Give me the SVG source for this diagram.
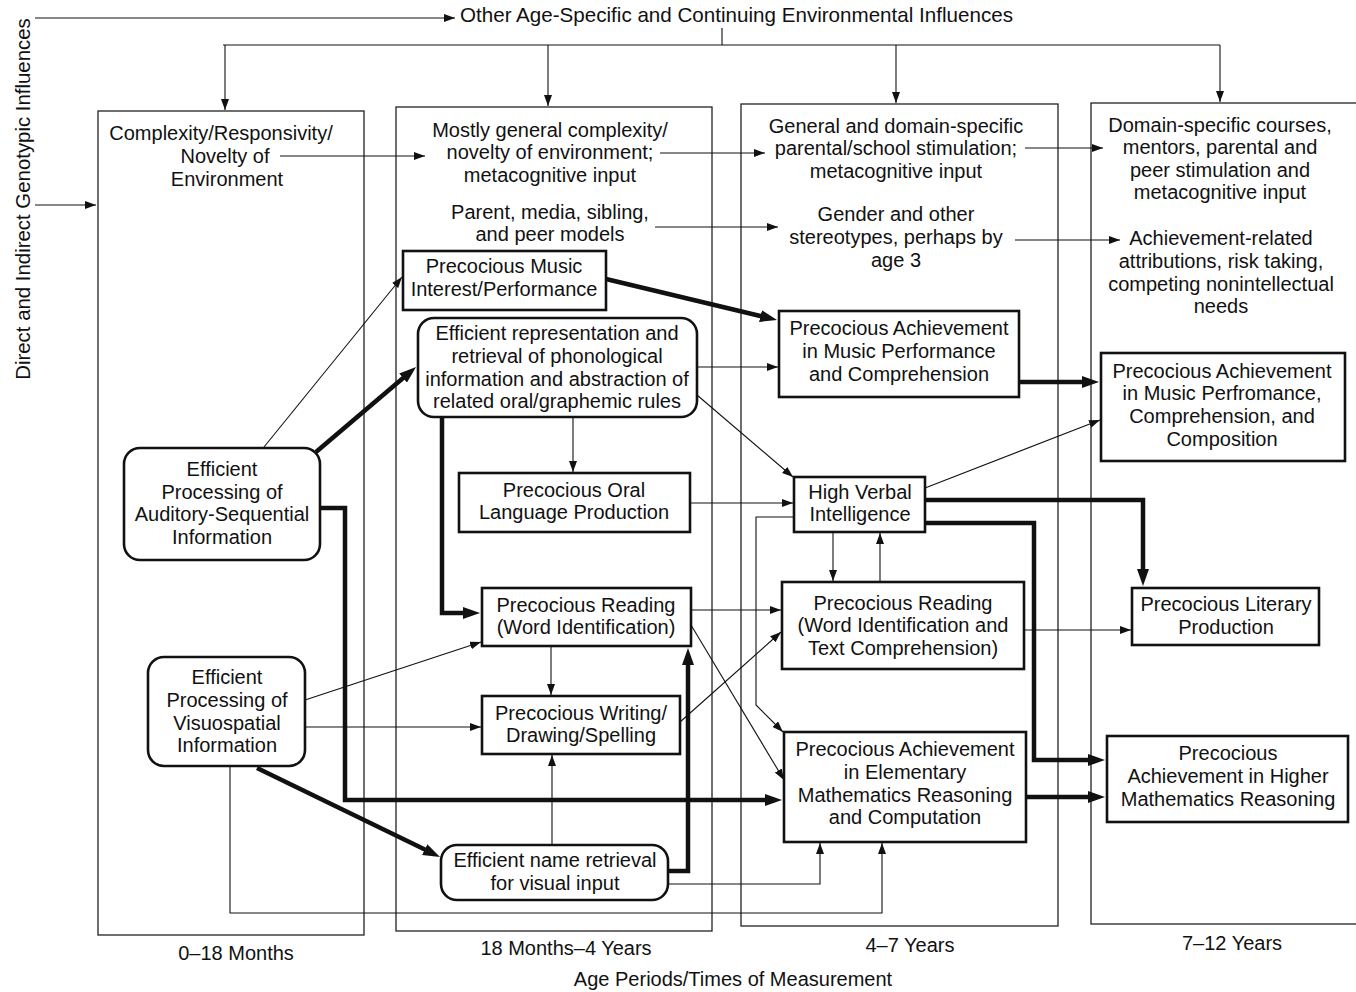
<svg xmlns="http://www.w3.org/2000/svg" width="1356" height="992" viewBox="0 0 1356 992">
<defs>
<marker id="a" markerUnits="userSpaceOnUse" markerWidth="11" markerHeight="8" refX="11" refY="4" orient="auto"><path d="M0,0 L11,4 L0,8 z" fill="#111"/></marker>
<marker id="at" markerUnits="userSpaceOnUse" markerWidth="17" markerHeight="12" refX="7" refY="6" orient="auto"><path d="M0,0 L17,6 L0,12 z" fill="#111"/></marker>
<style>
text{font-family:"Liberation Sans",Arial,sans-serif;font-size:20px;fill:#111;text-anchor:middle}
.frame{fill:none;stroke:#222;stroke-width:1.3}
.box{fill:#fff;stroke:#111;stroke-width:2.6}
.t{fill:none;stroke:#111;stroke-width:1.1;marker-end:url(#a)}
.tn{fill:none;stroke:#111;stroke-width:1.1}
.k{fill:none;stroke:#111;stroke-width:4.5;marker-end:url(#at)}
</style>
</defs>
<rect width="1356" height="992" fill="#fff"/>

<g id="periods">
<rect class="frame" x="98" y="111" width="266" height="824"/>
<rect class="frame" x="396" y="107" width="316" height="824"/>
<rect class="frame" x="741" y="104" width="317" height="822"/>
<rect class="frame" x="1091" y="103" width="290" height="821"/>
<text x="236" y="960">0–18 Months</text>
<text x="566" y="955">18 Months–4 Years</text>
<text x="910" y="952">4–7 Years</text>
<text x="1232" y="950">7–12 Years</text>
<text x="733" y="986">Age Periods/Times of Measurement</text>
</g>

<g id="influences">
<text x="460" y="22" style="text-anchor:start;font-size:20.6px">Other Age-Specific and Continuing Environmental Influences</text>
<text transform="translate(30,199) rotate(-90)" style="font-size:20.4px">Direct and Indirect Genotypic Influences</text>
<g id="env1"><text x="221" y="140">Complexity/Responsivity/</text><text x="225" y="163">Novelty of</text><text x="227" y="186">Environment</text></g>
<g id="env2"><text x="550" y="137">Mostly general complexity/</text><text x="550" y="159">novelty of environment;</text><text x="550" y="182">metacognitive input</text></g>
<g id="models"><text x="550" y="219">Parent, media, sibling,</text><text x="550" y="241">and peer models</text></g>
<g id="env3"><text x="896" y="133">General and domain-specific</text><text x="896" y="155">parental/school stimulation;</text><text x="896" y="178">metacognitive input</text></g>
<g id="stereo"><text x="896" y="221">Gender and other</text><text x="896" y="244">stereotypes, perhaps by</text><text x="896" y="267">age 3</text></g>
<g id="env4"><text x="1220" y="132">Domain-specific courses,</text><text x="1220" y="154">mentors, parental and</text><text x="1220" y="177">peer stimulation and</text><text x="1220" y="199">metacognitive input</text></g>
<g id="attrib"><text x="1221" y="245">Achievement-related</text><text x="1221" y="268">attributions, risk taking,</text><text x="1221" y="291">competing nonintellectual</text><text x="1221" y="313">needs</text></g>
</g>

<g id="connectors">
<path class="t" d="M35,18 H455"/>
<path class="t" d="M35,205 H96"/>
<path class="tn" d="M722,28 V45 M223,45 H1220"/>
<path class="t" d="M225,45 V110"/>
<path class="t" d="M548,45 V106"/>
<path class="t" d="M896,45 V103"/>
<path class="t" d="M1220,45 V102"/>
<path class="t" d="M280,156 H425"/>
<path class="t" d="M660,153 H765"/>
<path class="t" d="M1025,148 H1103"/>
<path class="t" d="M655,227 H778"/>
<path class="t" d="M1015,240 H1120"/>

<path class="t" d="M264,447 L402,277"/>
<path class="k" d="M316,452 L408.4,373.5"/>
<path class="k" d="M320,508 H345 V800 H772"/>
<path class="k" d="M606,279 L767.3,317.7"/>
<path class="t" d="M697,367 H778"/>
<path class="t" d="M697,395 L793,477"/>
<path class="t" d="M573,418 V472"/>
<path class="k" d="M442,418 V613 H470"/>
<path class="t" d="M690,503 H793"/>
<path class="k" d="M1019,382 H1089"/>
<path class="t" d="M925,488 L1100,420"/>
<path class="k" d="M925,500 H1143 V576"/>
<path class="k" d="M925,523 H1034 V760 H1095"/>
<path class="t" d="M794,517 H756 V705 L783,732"/>
<path class="t" d="M833,532 V581"/>
<path class="t" d="M880,582 V533"/>
<path class="t" d="M691,610 H781"/>
<path class="t" d="M691,625 L784,780"/>
<path class="t" d="M680,722 L781,632"/>
<path class="t" d="M1024,630 H1131"/>
<path class="k" d="M1026,797 H1095"/>
<path class="t" d="M305,700 L481,642"/>
<path class="t" d="M305,727 H481"/>
<path class="t" d="M551,646 V695"/>
<path class="t" d="M552,845 V755"/>
<path class="k" d="M257,768 L431,852.6"/>
<path class="k" d="M668,871 H688 V658"/>
<path class="t" d="M668,884 H820 V843"/>
<path class="t" d="M230,766 V913 H882 V843"/>
</g>

<g id="auditory"><rect class="box" x="124" y="448" width="196" height="112" rx="16"/><text x="222" y="476">Efficient</text><text x="222" y="499">Processing of</text><text x="222" y="521">Auditory-Sequential</text><text x="222" y="544">Information</text></g>
<g id="visuospatial"><rect class="box" x="148" y="657" width="157" height="109" rx="16"/><text x="227" y="684">Efficient</text><text x="227" y="707">Processing of</text><text x="227" y="730">Visuospatial</text><text x="227" y="752">Information</text></g>
<g id="music-interest"><rect class="box" x="403" y="251" width="203" height="59"/><text x="504" y="273">Precocious Music</text><text x="504" y="296">Interest/Performance</text></g>
<g id="phonological"><rect class="box" x="418" y="318" width="279" height="99" rx="16"/><text x="557" y="340">Efficient representation and</text><text x="557" y="363">retrieval of phonological</text><text x="557" y="386">information and abstraction of</text><text x="557" y="408">related oral/graphemic rules</text></g>
<g id="oral"><rect class="box" x="459" y="473" width="231" height="59"/><text x="574" y="497">Precocious Oral</text><text x="574" y="519">Language Production</text></g>
<g id="reading1"><rect class="box" x="482" y="588" width="209" height="58"/><text x="586" y="612">Precocious Reading</text><text x="586" y="634">(Word Identification)</text></g>
<g id="writing"><rect class="box" x="482" y="696" width="198" height="58"/><text x="581" y="720">Precocious Writing/</text><text x="581" y="742">Drawing/Spelling</text></g>
<g id="name-retrieval"><rect class="box" x="441" y="845" width="227" height="55" rx="16"/><text x="555" y="867">Efficient name retrieval</text><text x="555" y="890">for visual input</text></g>
<g id="music-achievement"><rect class="box" x="779" y="311" width="240" height="86"/><text x="899" y="335">Precocious Achievement</text><text x="899" y="358">in Music Performance</text><text x="899" y="381">and Comprehension</text></g>
<g id="verbal"><rect class="box" x="794" y="477" width="131" height="55"/><text x="860" y="499">High Verbal</text><text x="860" y="521">Intelligence</text></g>
<g id="reading2"><rect class="box" x="782" y="582" width="242" height="87"/><text x="903" y="610">Precocious Reading</text><text x="903" y="632">(Word Identification and</text><text x="903" y="655">Text Comprehension)</text></g>
<g id="elem-math"><rect class="box" x="784" y="732" width="242" height="110"/><text x="905" y="756">Precocious Achievement</text><text x="905" y="779">in Elementary</text><text x="905" y="802">Mathematics Reasoning</text><text x="905" y="824">and Computation</text></g>
<g id="music-composition"><rect class="box" x="1101" y="353" width="244" height="108"/><text x="1222" y="378">Precocious Achievement</text><text x="1222" y="400">in Music Perfromance,</text><text x="1222" y="423">Comprehension, and</text><text x="1222" y="446">Composition</text></g>
<g id="literary"><rect class="box" x="1132" y="588" width="187" height="57"/><text x="1226" y="611">Precocious Literary</text><text x="1226" y="634">Production</text></g>
<g id="higher-math"><rect class="box" x="1107" y="736" width="241" height="86"/><text x="1228" y="760">Precocious</text><text x="1228" y="783">Achievement in Higher</text><text x="1228" y="806">Mathematics Reasoning</text></g>
</svg>
